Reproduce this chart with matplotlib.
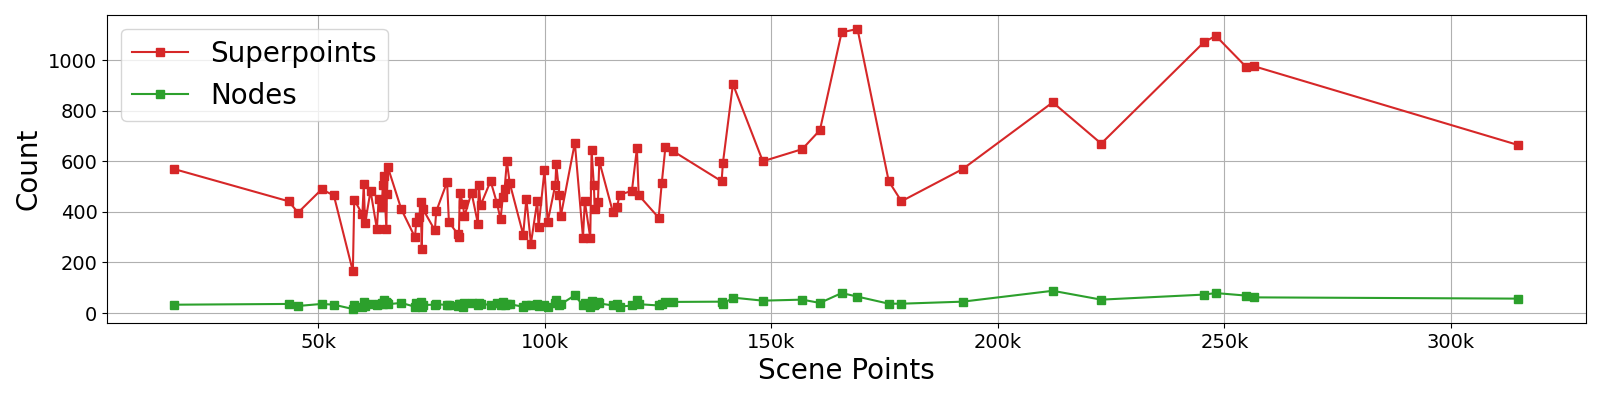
import matplotlib
matplotlib.use("Agg")
import matplotlib.pyplot as plt
from matplotlib.ticker import FuncFormatter

# Scene points (thousands) and counts
scene_k = [18.2, 43.4, 45.5, 50.7, 53.4, 57.6, 57.9, 59.7, 60.0, 60.3,
           61.5, 62.9, 63.3, 64.0, 64.2, 64.4, 65.0, 65.1, 65.3, 68.3,
           71.3, 71.6, 72.3, 72.6, 72.8, 73.0, 75.7, 76.0, 78.4, 78.8,
           80.8, 81.0, 81.2, 81.9, 82.2, 83.8, 85.2, 85.4, 85.8, 88.0,
           89.4, 90.2, 90.7, 91.1, 91.6, 92.2, 95.2, 95.9, 96.9, 98.3,
           98.6, 99.9, 100.6, 102.3, 102.5, 103.2, 103.5, 106.6, 108.4, 108.8,
           110.0, 110.3, 110.8, 111.0, 111.7, 112.0, 115.0, 115.9, 116.5, 119.2,
           120.3, 120.7, 125.1, 125.8, 126.6, 128.3, 139.0, 139.3, 141.5, 148.1,
           156.8, 160.7, 165.5, 169.0, 175.9, 178.7, 192.2, 212.1, 222.8, 245.5,
           248.1, 254.8, 256.5, 314.9]

superpoints = [569, 442, 397, 489, 465, 165, 448, 390, 509, 355,
               483, 333, 450, 420, 505, 540, 333, 470, 578, 410,
               300, 360, 380, 439, 254, 413, 327, 402, 518, 360,
               311, 300, 476, 432, 382, 476, 353, 508, 426, 522,
               435, 370, 459, 492, 600, 516, 310, 452, 274, 442,
               340, 565, 360, 508, 589, 466, 383, 673, 298, 442,
               298, 644, 505, 410, 439, 600, 399, 419, 468, 483,
               651, 466, 377, 516, 657, 640, 521, 595, 905, 600,
               648, 723, 1110, 1123, 521, 442, 569, 833, 670, 1071,
               1096, 973, 976, 664]

nodes = [33, 36, 28, 36, 33, 16, 30, 25, 42, 28,
         35, 33, 36, 40, 35, 52, 45, 38, 35, 40,
         25, 38, 30, 42, 22, 32, 33, 35, 32, 30,
         28, 35, 36, 25, 38, 40, 30, 38, 35, 33,
         38, 30, 42, 30, 36, 35, 25, 33, 30, 35,
         28, 33, 25, 38, 50, 30, 35, 70, 30, 40,
         22, 48, 30, 35, 42, 38, 30, 35, 25, 30,
         52, 35, 30, 35, 42, 44, 45, 36, 61, 49,
         53, 40, 79, 65, 37, 37, 45, 88, 53, 73,
         79, 69, 62, 57]

scene_points = [k * 1000 for k in scene_k]

fig, ax = plt.subplots(figsize=(16, 4), dpi=100)
ax.plot(scene_points, superpoints, marker='s', color='tab:red', label='Superpoints')
ax.plot(scene_points, nodes, marker='s', color='tab:green', label='Nodes')

ax.set_xlabel('Scene Points', fontsize=20)
ax.set_ylabel('Count', fontsize=20)
ax.xaxis.set_major_formatter(FuncFormatter(lambda v, p: f'{int(v / 1000)}k'))
ax.tick_params(labelsize=14)
ax.grid(True)
ax.legend(loc='upper left', fontsize=20)

plt.subplots_adjust(left=0.067, right=0.991, top=0.9625, bottom=0.1925)
plt.savefig('out.png')
